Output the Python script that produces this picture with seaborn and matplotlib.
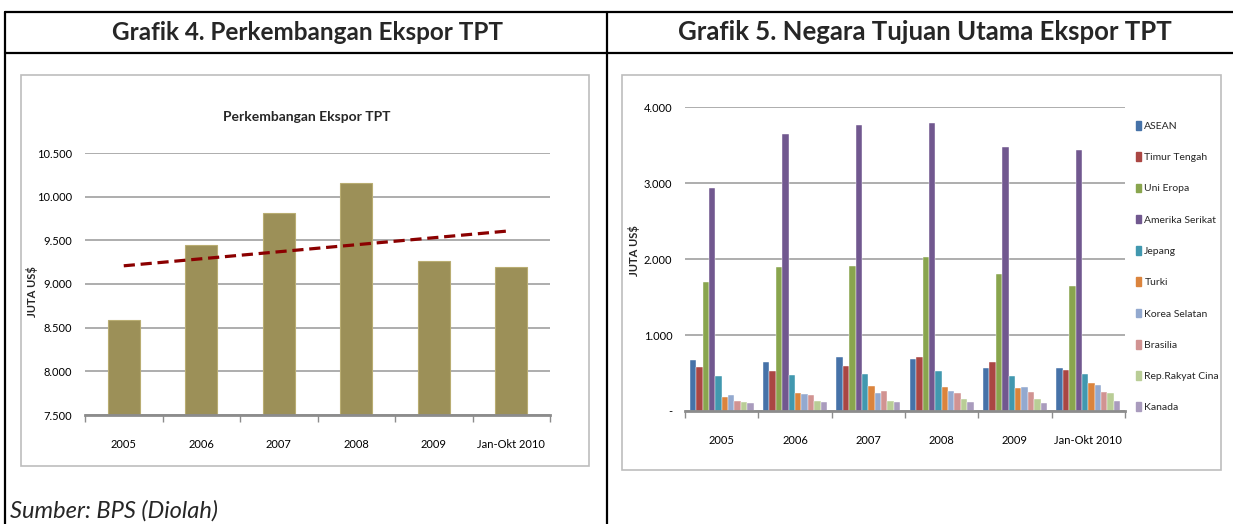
import matplotlib.pyplot as plt
import matplotlib.patches as mpatches
from matplotlib.lines import Line2D
from matplotlib.ticker import FuncFormatter, FixedLocator
import numpy as np
import pandas as pd
import seaborn as sns

# data
tahun = ['2005', '2006', '2007', '2008', '2009', 'Jan-Okt 2010']
ekspor_tpt = [8590, 9441, 9813, 10157, 9266, 9189]

negara = ['ASEAN', 'Timur Tengah', 'Uni Eropa', 'Amerika Serikat', 'Jepang',
          'Turki', 'Korea Selatan', 'Brasilia', 'Rep.Rakyat Cina', 'Kanada']
asean = [668, 650, 704, 686, 562, 568]
timur_tengah = [580, 527, 597, 704, 650, 546]
uni_eropa = [1702, 1891, 1909, 2030, 1804, 1651]
amerika_serikat = [2940, 3639, 3761, 3796, 3478, 3437]
jepang = [456, 473, 491, 531, 459, 493]
turki = [190, 243, 332, 314, 301, 371]
korea_selatan = [208, 226, 243, 261, 319, 341]
brasilia = [137, 208, 265, 243, 249, 249]
rep_rakyat_cina = [119, 137, 137, 155, 162, 231]
kanada = [102, 119, 119, 119, 109, 127]

warna = ['#4672A8', '#AA4643', '#89A54E', '#71588F', '#4198AF',
         '#DB843D', '#93A9CF', '#D19392', '#B9CD96', '#A99BBD']

W, H = 1233, 524
sns.set_theme(style='white')
plt.rcParams['font.family'] = ['Lato', 'DejaVu Sans']


def fx(x):
    return x / W


def fy(y):
    return 1 - y / H


def thousands(v, pos=None):
    if abs(v) < 1e-9:
        return '-'
    return f'{v:,.0f}'.replace(',', '.')


fig = plt.figure(figsize=(W / 100, H / 100), dpi=100)

# table borders
for (x0, y0, x1, y1) in [(5, 12, W, 12), (5, 53, W, 53),
                         (5, 12, 5, H), (607, 12, 607, H)]:
    fig.add_artist(Line2D([fx(x0), fx(x1)], [fy(y0), fy(y1)],
                          color='black', lw=1.6))
fig.text(fx(308), fy(32), 'Grafik 4. Perkembangan Ekspor TPT', ha='center',
         va='center', fontsize=17.5, fontweight='bold')
fig.text(fx(925), fy(32), 'Grafik 5. Negara Tujuan Utama Ekspor TPT',
         ha='center', va='center', fontsize=18.5, fontweight='bold')
fig.text(fx(10), fy(511), 'Sumber: BPS (Diolah)', ha='left', va='center',
         fontsize=17, style='italic')

# chart frames
for (x0, y0, x1, y1) in [(21, 75, 589, 466), (622, 75, 1221, 470)]:
    fig.add_artist(mpatches.Rectangle((fx(x0), fy(y1)), fx(x1 - x0),
                                      (y1 - y0) / H, fill=False,
                                      edgecolor='#bdbdbd', lw=1.2))

# left chart
ax1 = fig.add_axes([fx(85), fy(415), fx(465), 262 / H])
df1 = pd.DataFrame({'Tahun': tahun, 'Ekspor': ekspor_tpt})
sns.barplot(data=df1, x='Tahun', y='Ekspor', color='#9C9058', width=0.41,
            saturation=1, edgecolor='#b9ad72', linewidth=0.8, ax=ax1, zorder=3)
xs = np.arange(len(tahun))
fit = np.polyfit(xs, ekspor_tpt, 1)
ax1.plot(xs, np.polyval(fit, xs), color='#8B0000', lw=2.3,
         dashes=(3.5, 1.8), zorder=4)
ax1.set_ylim(7500, 10500)
ax1.set_yticks(np.arange(7500, 10501, 500))
fig.text(fx(307), fy(117), 'Perkembangan Ekspor TPT', ha='center',
         va='center', fontsize=10, fontweight='bold')
fig.text(fx(32), fy(292), 'JUTA US$', rotation=90, ha='center', va='center',
         fontsize=8, fontweight='bold')

# right chart
ax2 = fig.add_axes([fx(685), fy(411), fx(440), 304 / H])
df2 = pd.DataFrame({
    'Tahun': tahun * len(negara),
    'Negara': np.repeat(negara, len(tahun)),
    'Nilai': asean + timur_tengah + uni_eropa + amerika_serikat + jepang
    + turki + korea_selatan + brasilia + rep_rakyat_cina + kanada,
})
sns.barplot(data=df2, x='Tahun', y='Nilai', hue='Negara', hue_order=negara,
            palette=warna, width=0.87, saturation=1, edgecolor='white',
            linewidth=0.3, legend=False, ax=ax2, zorder=3)
ax2.set_ylim(0, 4000)
ax2.set_yticks(np.arange(0, 4001, 1000))
fig.text(fx(634), fy(251), 'JUTA US$', rotation=90, ha='center', va='center',
         fontsize=8, fontweight='bold')

handles = [mpatches.Patch(color=c, label=n) for c, n in zip(warna, negara)]
fig.legend(handles=handles, loc='upper left',
           bbox_to_anchor=(fx(1136), fy(121)), frameon=False, fontsize=7.5,
           handlelength=0.5, handleheight=0.9, handletextpad=0.3,
           labelspacing=2.05, borderpad=0, borderaxespad=0)

for ax in (ax1, ax2):
    ax.set_xlabel('')
    ax.set_ylabel('')
    ax.set_xlim(-0.5, len(tahun) - 0.5)
    ax.yaxis.set_major_formatter(FuncFormatter(thousands))
    ax.grid(axis='y', color='#a0a0a0', lw=1.2, zorder=0)
    ax.grid(axis='x', visible=False)
    for s in ('top', 'right', 'left'):
        ax.spines[s].set_visible(False)
    ax.spines['bottom'].set_color('#8c8c8c')
    ax.spines['bottom'].set_linewidth(2)
    ax.spines['bottom'].set_zorder(5)
    ax.xaxis.set_minor_locator(FixedLocator(np.arange(-0.5, len(tahun), 1)))
    ax.tick_params(axis='x', which='major', length=0, pad=17, labelsize=8,
                   colors='black')
    ax.tick_params(axis='x', which='minor', bottom=True, length=5, width=1,
                   color='#8c8c8c', direction='out')
    ax.tick_params(axis='y', length=0, pad=9, labelsize=8, colors='black')
    ax.set_facecolor('none')

fig.savefig('out.png', dpi=100)
